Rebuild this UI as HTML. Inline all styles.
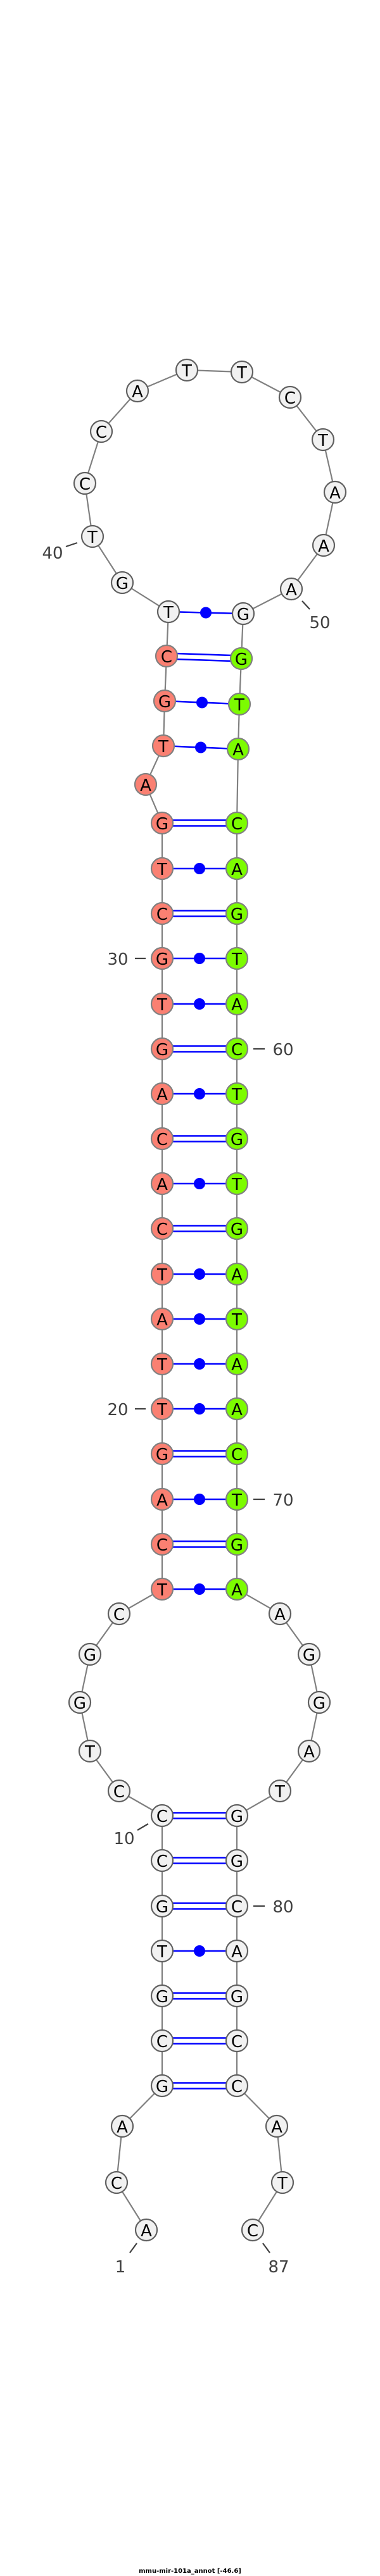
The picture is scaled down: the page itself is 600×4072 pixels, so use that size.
<!DOCTYPE html>
<html><head><meta charset="utf-8"><style>
html,body{margin:0;padding:0;background:#fff}
svg{display:block}
.n text{font-family:"DejaVu Sans","Liberation Sans",sans-serif;font-size:26px;text-anchor:middle;fill:#000}
.lb{font-family:"DejaVu Sans","Liberation Sans",sans-serif;font-size:26px;text-anchor:middle;fill:#404040}
</style></head><body>
<svg width="600" height="4072" viewBox="0 0 600 4072" xmlns="http://www.w3.org/2000/svg">
<rect width="600" height="4072" fill="#fff"/>
<polyline fill="none" stroke="#808080" stroke-width="2.2" points="231,3525 184,3450 193,3361 256,3297 256,3226 256,3155 256,3084 256,3013 256,2941 256,2870 188,2831 142,2768 126,2691 142,2615 188,2551 256,2512 256,2441 256,2370 256,2298 256,2227 256,2156 256,2085 256,2014 256,1942 256,1871 256,1800 256,1729 256,1658 256,1587 256,1515 256,1444 256,1373 256,1301 230,1240 258,1179 260,1108 263,1037 266,967 193,921 146,848 134,764 160,682 217,618 295,585 382,588 458,628 510,695 529,778 511,862 460,931 384,970 381,1041 378,1113 376,1184 374,1301 374,1373 374,1444 374,1515 374,1587 374,1658 374,1729 374,1800 374,1871 374,1942 374,2014 374,2085 374,2156 374,2227 374,2298 374,2370 374,2441 374,2512 442,2551 488,2615 504,2691 488,2768 442,2831 374,2870 374,2941 374,3013 374,3084 374,3155 374,3226 374,3297 437,3361 446,3450 399,3525"/>
<g stroke="#0000ff" stroke-width="2.5" fill="#0000ff">
<line x1="266" y1="967" x2="384" y2="970"/><circle cx="325" cy="968.5" r="9" stroke="none"/>
<line x1="260" y1="1108" x2="378" y2="1113"/><circle cx="319" cy="1110.5" r="9" stroke="none"/>
<line x1="258" y1="1179" x2="376" y2="1184"/><circle cx="317" cy="1181.5" r="9" stroke="none"/>
<line x1="256" y1="1373" x2="374" y2="1373"/><circle cx="315" cy="1373" r="9" stroke="none"/>
<line x1="256" y1="1515" x2="374" y2="1515"/><circle cx="315" cy="1515" r="9" stroke="none"/>
<line x1="256" y1="1587" x2="374" y2="1587"/><circle cx="315" cy="1587" r="9" stroke="none"/>
<line x1="256" y1="1729" x2="374" y2="1729"/><circle cx="315" cy="1729" r="9" stroke="none"/>
<line x1="256" y1="1871" x2="374" y2="1871"/><circle cx="315" cy="1871" r="9" stroke="none"/>
<line x1="256" y1="2014" x2="374" y2="2014"/><circle cx="315" cy="2014" r="9" stroke="none"/>
<line x1="256" y1="2085" x2="374" y2="2085"/><circle cx="315" cy="2085" r="9" stroke="none"/>
<line x1="256" y1="2156" x2="374" y2="2156"/><circle cx="315" cy="2156" r="9" stroke="none"/>
<line x1="256" y1="2227" x2="374" y2="2227"/><circle cx="315" cy="2227" r="9" stroke="none"/>
<line x1="256" y1="2370" x2="374" y2="2370"/><circle cx="315" cy="2370" r="9" stroke="none"/>
<line x1="256" y1="2512" x2="374" y2="2512"/><circle cx="315" cy="2512" r="9" stroke="none"/>
<line x1="256" y1="3084" x2="374" y2="3084"/><circle cx="315" cy="3084" r="9" stroke="none"/>
<line x1="263" y1="1032.5" x2="381" y2="1036.5"/><line x1="263" y1="1041.5" x2="381" y2="1045.5"/>
<line x1="256" y1="1296.5" x2="374" y2="1296.5"/><line x1="256" y1="1305.5" x2="374" y2="1305.5"/>
<line x1="256" y1="1439.5" x2="374" y2="1439.5"/><line x1="256" y1="1448.5" x2="374" y2="1448.5"/>
<line x1="256" y1="1653.5" x2="374" y2="1653.5"/><line x1="256" y1="1662.5" x2="374" y2="1662.5"/>
<line x1="256" y1="1795.5" x2="374" y2="1795.5"/><line x1="256" y1="1804.5" x2="374" y2="1804.5"/>
<line x1="256" y1="1937.5" x2="374" y2="1937.5"/><line x1="256" y1="1946.5" x2="374" y2="1946.5"/>
<line x1="256" y1="2293.5" x2="374" y2="2293.5"/><line x1="256" y1="2302.5" x2="374" y2="2302.5"/>
<line x1="256" y1="2436.5" x2="374" y2="2436.5"/><line x1="256" y1="2445.5" x2="374" y2="2445.5"/>
<line x1="256" y1="2865.5" x2="374" y2="2865.5"/><line x1="256" y1="2874.5" x2="374" y2="2874.5"/>
<line x1="256" y1="2936.5" x2="374" y2="2936.5"/><line x1="256" y1="2945.5" x2="374" y2="2945.5"/>
<line x1="256" y1="3008.5" x2="374" y2="3008.5"/><line x1="256" y1="3017.5" x2="374" y2="3017.5"/>
<line x1="256" y1="3150.5" x2="374" y2="3150.5"/><line x1="256" y1="3159.5" x2="374" y2="3159.5"/>
<line x1="256" y1="3221.5" x2="374" y2="3221.5"/><line x1="256" y1="3230.5" x2="374" y2="3230.5"/>
<line x1="256" y1="3292.5" x2="374" y2="3292.5"/><line x1="256" y1="3301.5" x2="374" y2="3301.5"/>
</g>
<g class="n" stroke-width="2.2">
<g fill="#f1f1f1" stroke="#606060">
<circle cx="231" cy="3525" r="17"/><circle cx="184" cy="3450" r="17"/><circle cx="193" cy="3361" r="17"/>
<circle cx="256" cy="3297" r="17"/><circle cx="256" cy="3226" r="17"/><circle cx="256" cy="3155" r="17"/><circle cx="256" cy="3084" r="17"/><circle cx="256" cy="3013" r="17"/><circle cx="256" cy="2941" r="17"/><circle cx="256" cy="2870" r="17"/>
<circle cx="188" cy="2831" r="17"/><circle cx="142" cy="2768" r="17"/><circle cx="126" cy="2691" r="17"/><circle cx="142" cy="2615" r="17"/><circle cx="188" cy="2551" r="17"/>
<circle cx="266" cy="967" r="17"/><circle cx="193" cy="921" r="17"/><circle cx="146" cy="848" r="17"/><circle cx="134" cy="764" r="17"/><circle cx="160" cy="682" r="17"/><circle cx="217" cy="618" r="17"/><circle cx="295" cy="585" r="17"/><circle cx="382" cy="588" r="17"/><circle cx="458" cy="628" r="17"/><circle cx="510" cy="695" r="17"/><circle cx="529" cy="778" r="17"/><circle cx="511" cy="862" r="17"/><circle cx="460" cy="931" r="17"/><circle cx="384" cy="970" r="17"/>
<circle cx="442" cy="2551" r="17"/><circle cx="488" cy="2615" r="17"/><circle cx="504" cy="2691" r="17"/><circle cx="488" cy="2768" r="17"/><circle cx="442" cy="2831" r="17"/>
<circle cx="374" cy="2870" r="17"/><circle cx="374" cy="2941" r="17"/><circle cx="374" cy="3013" r="17"/><circle cx="374" cy="3084" r="17"/><circle cx="374" cy="3155" r="17"/><circle cx="374" cy="3226" r="17"/><circle cx="374" cy="3297" r="17"/>
<circle cx="437" cy="3361" r="17"/><circle cx="446" cy="3450" r="17"/><circle cx="399" cy="3525" r="17"/>
</g>
<g fill="#fa8072" stroke="#808080">
<circle cx="256" cy="2512" r="17"/><circle cx="256" cy="2441" r="17"/><circle cx="256" cy="2370" r="17"/><circle cx="256" cy="2298" r="17"/><circle cx="256" cy="2227" r="17"/><circle cx="256" cy="2156" r="17"/><circle cx="256" cy="2085" r="17"/><circle cx="256" cy="2014" r="17"/><circle cx="256" cy="1942" r="17"/><circle cx="256" cy="1871" r="17"/><circle cx="256" cy="1800" r="17"/><circle cx="256" cy="1729" r="17"/><circle cx="256" cy="1658" r="17"/><circle cx="256" cy="1587" r="17"/><circle cx="256" cy="1515" r="17"/><circle cx="256" cy="1444" r="17"/><circle cx="256" cy="1373" r="17"/><circle cx="256" cy="1301" r="17"/>
<circle cx="230" cy="1240" r="17"/><circle cx="258" cy="1179" r="17"/><circle cx="260" cy="1108" r="17"/><circle cx="263" cy="1037" r="17"/>
</g>
<g fill="#7cfc00" stroke="#808080">
<circle cx="381" cy="1041" r="17"/><circle cx="378" cy="1113" r="17"/><circle cx="376" cy="1184" r="17"/>
<circle cx="374" cy="1301" r="17"/><circle cx="374" cy="1373" r="17"/><circle cx="374" cy="1444" r="17"/><circle cx="374" cy="1515" r="17"/><circle cx="374" cy="1587" r="17"/><circle cx="374" cy="1658" r="17"/><circle cx="374" cy="1729" r="17"/><circle cx="374" cy="1800" r="17"/><circle cx="374" cy="1871" r="17"/><circle cx="374" cy="1942" r="17"/><circle cx="374" cy="2014" r="17"/><circle cx="374" cy="2085" r="17"/><circle cx="374" cy="2156" r="17"/><circle cx="374" cy="2227" r="17"/><circle cx="374" cy="2298" r="17"/><circle cx="374" cy="2370" r="17"/><circle cx="374" cy="2441" r="17"/><circle cx="374" cy="2512" r="17"/>
</g>
<g stroke="none" transform="translate(0,2)">
<text x="231" y="3533">A</text><text x="184" y="3458">C</text><text x="193" y="3369">A</text>
<text x="256" y="3305">G</text><text x="256" y="3234">C</text><text x="256" y="3163">G</text><text x="256" y="3092">T</text><text x="256" y="3021">G</text><text x="256" y="2949">C</text><text x="256" y="2878">C</text>
<text x="188" y="2839">C</text><text x="142" y="2776">T</text><text x="126" y="2699">G</text><text x="142" y="2623">G</text><text x="188" y="2559">C</text>
<text x="256" y="2520">T</text><text x="256" y="2449">C</text><text x="256" y="2378">A</text><text x="256" y="2306">G</text><text x="256" y="2235">T</text><text x="256" y="2164">T</text><text x="256" y="2093">A</text><text x="256" y="2022">T</text><text x="256" y="1950">C</text><text x="256" y="1879">A</text><text x="256" y="1808">C</text><text x="256" y="1737">A</text><text x="256" y="1666">G</text><text x="256" y="1595">T</text><text x="256" y="1523">G</text><text x="256" y="1452">C</text><text x="256" y="1381">T</text><text x="256" y="1309">G</text>
<text x="230" y="1248">A</text><text x="258" y="1187">T</text><text x="260" y="1116">G</text><text x="263" y="1045">C</text><text x="266" y="975">T</text>
<text x="193" y="929">G</text><text x="146" y="856">T</text><text x="134" y="772">C</text><text x="160" y="690">C</text><text x="217" y="626">A</text><text x="295" y="593">T</text><text x="382" y="596">T</text><text x="458" y="636">C</text><text x="510" y="703">T</text><text x="529" y="786">A</text><text x="511" y="870">A</text><text x="460" y="939">A</text><text x="384" y="978">G</text>
<text x="381" y="1049">G</text><text x="378" y="1121">T</text><text x="376" y="1192">A</text>
<text x="374" y="1309">C</text><text x="374" y="1381">A</text><text x="374" y="1452">G</text><text x="374" y="1523">T</text><text x="374" y="1595">A</text><text x="374" y="1666">C</text><text x="374" y="1737">T</text><text x="374" y="1808">G</text><text x="374" y="1879">T</text><text x="374" y="1950">G</text><text x="374" y="2022">A</text><text x="374" y="2093">T</text><text x="374" y="2164">A</text><text x="374" y="2235">A</text><text x="374" y="2306">C</text><text x="374" y="2378">T</text><text x="374" y="2449">G</text><text x="374" y="2520">A</text>
<text x="442" y="2559">A</text><text x="488" y="2623">G</text><text x="504" y="2699">G</text><text x="488" y="2776">A</text><text x="442" y="2839">T</text>
<text x="374" y="2878">G</text><text x="374" y="2949">G</text><text x="374" y="3021">C</text><text x="374" y="3092">A</text><text x="374" y="3163">G</text><text x="374" y="3234">C</text><text x="374" y="3305">C</text>
<text x="437" y="3369">A</text><text x="446" y="3458">T</text><text x="399" y="3533">C</text>
</g>
</g>
<g stroke="#404040" stroke-width="2.2">
<line x1="104" y1="864" x2="122" y2="858"/>
<line x1="477" y1="950" x2="489" y2="963"/>
<line x1="213" y1="1515" x2="230" y2="1515"/>
<line x1="400" y1="1658" x2="418" y2="1658"/>
<line x1="213" y1="2227" x2="230" y2="2227"/>
<line x1="400" y1="2370" x2="418" y2="2370"/>
<line x1="217" y1="2893" x2="234" y2="2883"/>
<line x1="400" y1="3013" x2="418" y2="3013"/>
<line x1="205" y1="3561" x2="216" y2="3546"/>
<line x1="415" y1="3546" x2="426" y2="3561"/>
</g>
<g class="lb">
<text x="83" y="883">40</text>
<text x="505" y="993">50</text>
<text x="186" y="1525">30</text>
<text x="447" y="1668">60</text>
<text x="186" y="2237">20</text>
<text x="447" y="2380">70</text>
<text x="196" y="2915">10</text>
<text x="447" y="3023">80</text>
<text x="190" y="3592">1</text>
<text x="440" y="3592">87</text>
</g>
<text x="300" y="4067" font-family="'DejaVu Sans','Liberation Sans',sans-serif" font-size="10" font-weight="bold" text-anchor="middle" fill="#000">mmu-mir-101a_annot [-46.6]</text>
</svg>
</body></html>
